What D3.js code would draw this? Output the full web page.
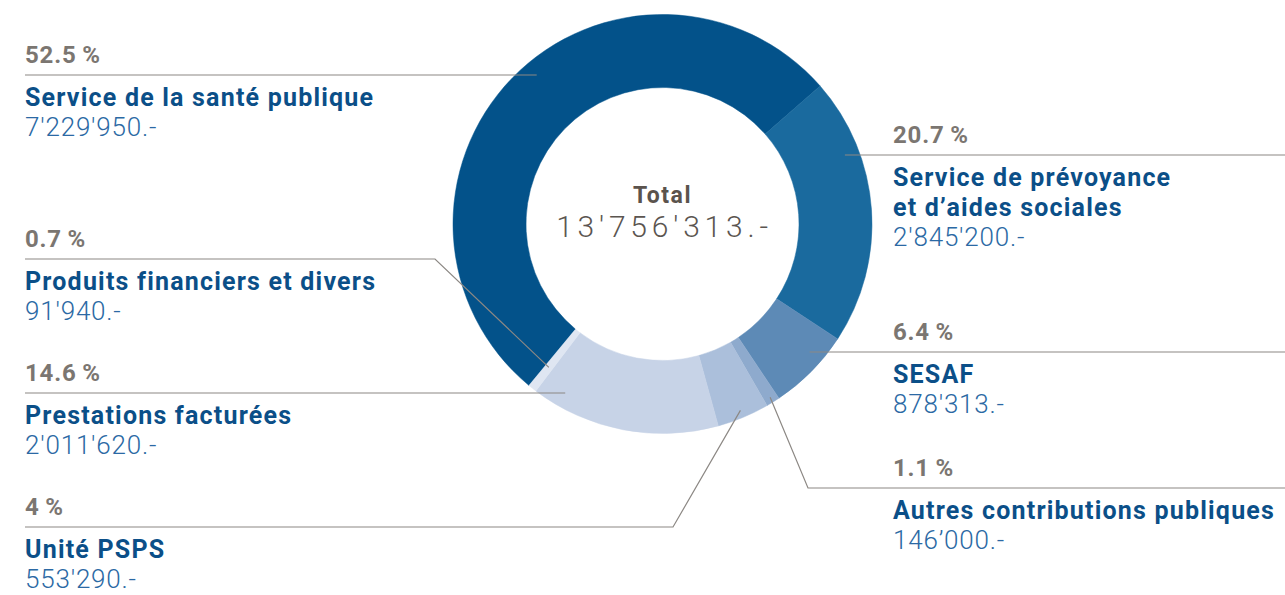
<!DOCTYPE html>
<html>
<head>
<meta charset="utf-8">
<script src="https://cdn.jsdelivr.net/npm/d3@7"></script>
<style>
  body { margin: 0; background: #fff; }
  svg { display: block; }
</style>
</head>
<body>
<svg width="1285" height="595"></svg>
<script>
// slices, clockwise, starting with the big one
var categories = [
    ['Service de la santé publique'],
    ['Service de prévoyance', 'et d’aides sociales'],
    ['SESAF'],
    ['Autres contributions publiques'],
    ['Unité PSPS'],
    ['Prestations facturées'],
    ['Produits financiers et divers']
];
var amounts = [7229950, 2845200, 878313, 146000, 553290, 2011620, 91940];
var amountLabels = ["7'229'950.-", "2'845'200.-", "878'313.-", "146’000.-", "553'290.-", "2'011'620.-", "91'940.-"];
var percentLabels = ['52.5\u2009%', '20.7\u2009%', '6.4\u2009%', '1.1\u2009%', '4\u2009%', '14.6\u2009%', '0.7\u2009%'];
var sliceColors = ['#03528a', '#1a6a9e', '#5d8ab6', '#8eaacd', '#abbfdb', '#c7d3e7', '#dfe6f2'];
var totalLabel = "13'756'313.-";

// label layout (annotation placement)
var labelSide = ['left', 'right', 'right', 'right', 'left', 'left', 'left'];
var labelLineY = [75, 155, 352, 488, 527, 393, 259];
var labelElbowX = [null, null, null, 808, 673, null, 435];
var labelAnchorR = [195, 195, 195, 204, 202, 195, 183];

var svg = d3.select('svg');
var svgWidth = +svg.attr('width');

var cx = 662.5, cy = 224;
var outerR = 209.5, innerR = 136.5;
var leftX = 25, rightX = 893;
var font = 'Roboto, "Liberation Sans", sans-serif';

var startA = -140.4 * Math.PI / 180;

var pie = d3.pie()
    .sort(null)
    .startAngle(startA)
    .endAngle(startA + 2 * Math.PI);

var arcs = pie(amounts);

var arc = d3.arc()
    .innerRadius(innerR)
    .outerRadius(outerR);

var chartG = svg.append('g')
    .attr('transform', 'translate(' + [cx, cy] + ')');

chartG.selectAll('.slice')
    .data(arcs)
    .enter()
    .append('path')
    .attr('class', 'slice')
    .attr('d', arc)
    .attr('fill', function(d, i) { return sliceColors[i]; })
    .attr('stroke', function(d, i) { return sliceColors[i]; })
    .attr('stroke-width', 0.5);

// centre text
chartG.append('text')
    .attr('x', 0)
    .attr('y', -21)
    .attr('text-anchor', 'middle')
    .style('font-family', font)
    .style('font-weight', 700)
    .style('font-size', '23px')
    .style('letter-spacing', '1.5px')
    .style('fill', '#5b534d')
    .text('Total');

chartG.append('text')
    .attr('x', 2)
    .attr('y', 13)
    .attr('text-anchor', 'middle')
    .style('font-family', font)
    .style('font-weight', 300)
    .style('font-size', '30px')
    .style('letter-spacing', '4.8px')
    .style('fill', '#5b5550')
    .text(totalLabel);

// leader lines
function leaderPoints(d, i) {
    var y = labelLineY[i];
    var side = labelSide[i];
    var r = labelAnchorR[i];
    var pts = [];
    var endX = side === 'left' ? leftX : svgWidth;
    if (labelElbowX[i] === null) {
        var dy = y - cy;
        var dx = Math.sqrt(r * r - dy * dy);
        var ax = side === 'left' ? cx - dx : cx + dx;
        pts.push([ax, y]);
    } else {
        var mid = (d.startAngle + d.endAngle) / 2;
        pts.push([cx + r * Math.sin(mid), cy - r * Math.cos(mid)]);
        pts.push([labelElbowX[i], y]);
    }
    pts.push([endX, y]);
    return pts;
}

svg.selectAll('.leader')
    .data(arcs)
    .enter()
    .append('path')
    .attr('class', 'leader')
    .attr('d', function(d, i) { return d3.line()(leaderPoints(d, i)); })
    .attr('fill', 'none')
    .attr('stroke', '#8c8884')
    .attr('stroke-width', 1.2);

// labels
var labels = svg.selectAll('.label')
    .data(arcs)
    .enter()
    .append('g')
    .attr('class', 'label')
    .attr('transform', function(d, i) {
        var x = labelSide[i] === 'left' ? leftX : rightX;
        return 'translate(' + [x, labelLineY[i]] + ')';
    });

labels.append('text')
    .attr('y', -12)
    .style('font-family', font)
    .style('font-weight', 700)
    .style('font-size', '24px')
    .style('letter-spacing', '0.8px')
    .style('fill', '#7b7671')
    .text(function(d, i) { return percentLabels[i]; });

labels.each(function(d, i) {
    var g = d3.select(this);
    var lines = categories[i];
    lines.forEach(function(line, k) {
        g.append('text')
            .attr('y', 31 + k * 30)
            .style('font-family', font)
            .style('font-weight', 700)
            .style('font-size', '25px')
            .style('letter-spacing', '1.2px')
            .style('fill', '#0b4f88')
            .text(line);
    });
    g.append('text')
        .attr('y', 31 + (lines.length - 1) * 30 + 30)
        .style('font-family', font)
        .style('font-weight', 300)
        .style('font-size', '26px')
        .style('letter-spacing', '0.8px')
        .style('fill', '#2b69a4')
        .text(amountLabels[i]);
});
</script>
</body>
</html>
